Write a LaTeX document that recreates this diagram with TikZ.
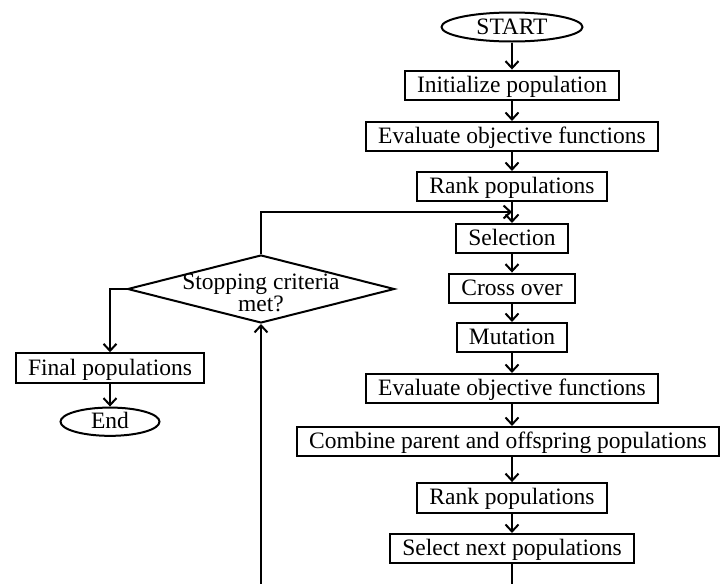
\documentclass[tikz,border=0pt]{standalone}
\usepackage{fontspec}
\setmainfont{Liberation Serif}
\usetikzlibrary{shapes.geometric,arrows.meta}

\begin{document}
\begin{tikzpicture}[x=1pt,y=-1pt,line width=2pt,
    every node/.style={font=\fontsize{23.5}{19}\selectfont},
    proc/.style={draw,rectangle,inner xsep=12pt,inner ysep=0pt,minimum height=29.5pt,text height=17pt,text depth=3pt},
    term/.style={draw,ellipse,inner sep=0pt,text height=17pt,text depth=3pt},
    decide/.style={draw,diamond,inner sep=0pt,minimum width=267pt,minimum height=68pt},
    flow/.style={-{Straight Barb[length=7pt,width=13pt,line width=2pt]}}]
    \useasboundingbox (0,0) rectangle (721,584);

    % main column
    \node[term,minimum width=141pt,minimum height=29pt] (start) at (512,27) {START};
    \node[proc] (init) at (512,85.3) {Initialize population};
    \node[proc] (eval1) at (512,136.7) {Evaluate objective functions};
    \node[proc] (rank1) at (512,186.7) {Rank populations};
    \coordinate (j) at (512,212);
    \node[proc] (sel) at (512,238.7) {Selection};
    \node[proc] (cross) at (512,288.3) {Cross over};
    \node[proc] (mut) at (512,337.7) {Mutation};
    \node[proc] (eval2) at (512,388.7) {Evaluate objective functions};
    \node[proc] (comb) at (508,441.7) {Combine parent and offspring populations};
    \node[proc] (rank2) at (512,497.8) {Rank populations};
    \node[proc] (next) at (512,548.7) {Select next populations};
    \coordinate (b1) at (512,584);

    % decision and end
    \node[decide] (stop) at (261,289) {};
    \node[align=center] (stoptxt) at (261,293) {Stopping criteria\\met?};
    \node[proc] (fin) at (110,368) {Final populations};
    \node[term,minimum width=99pt,minimum height=27pt] (end) at (110,421.7) {End};
    \coordinate (b2) at (261,584);

    \draw[flow] (start) -- (init);
    \draw[flow] (init) -- (eval1);
    \draw[flow] (eval1) -- (rank1);
    \draw[flow] (rank1) -- (sel);
    \draw[flow] (sel) -- (cross);
    \draw[flow] (cross) -- (mut);
    \draw[flow] (mut) -- (eval2);
    \draw[flow] (eval2) -- (eval2 |- comb.north);
    \draw[flow] (rank2 |- comb.south) -- (rank2);
    \draw[flow] (rank2) -- (next);
    \draw (next) -- (b1);
    \draw[flow] (b2) -- (stop.south);
    \draw[flow] (stop.north) |- (j);
    \draw[flow] (stop.west) -| (fin.north);
    \draw[flow] (fin) -- (end);
\end{tikzpicture}
\end{document}
